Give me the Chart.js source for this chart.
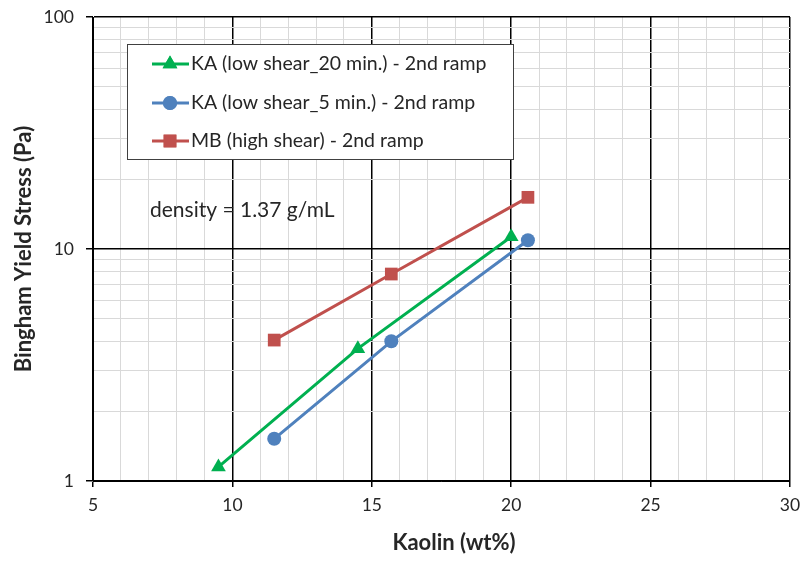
<!DOCTYPE html>
<html>
<head>
<meta charset="utf-8">
<script src="https://cdn.jsdelivr.net/npm/chart.js@4/dist/chart.umd.min.js"></script>
<style>
  html, body { margin: 0; padding: 0; background: #fff; }
  #wrap { width: 802px; height: 561px; }
</style>
</head>
<body>
<div id="wrap"><canvas id="graphique" width="802" height="561"></canvas></div>
<script>
// ── Données ───────────────────────────────────────────────
const kaolin20 = [9.5, 14.5, 20.0];
const stress20 = [1.15, 3.72, 11.3];

const kaolin5 = [11.5, 15.7, 20.6];
const stress5 = [1.52, 4.0, 10.9];

const kaolinMB = [11.5, 15.7, 20.6];
const stressMB = [4.05, 7.8, 16.7];

const seriesLabels = [
    'KA (low shear_20 min.) - 2nd ramp',
    'KA (low shear_5 min.) - 2nd ramp',
    'MB (high shear) - 2nd ramp'
];
const xTicks = [5, 10, 15, 20, 25, 30];
const yTicks = [1, 10, 100];

const FONT = 'Lato, "Open Sans", sans-serif';

function points(xs, ys) {
    return xs.map((x, i) => ({ x, y: ys[i] }));
}

function serie(label, data, color, style, radius) {
    return {
        label, data,
        borderColor: color, backgroundColor: color,
        borderWidth: 3, pointStyle: style,
        pointRadius: radius, pointHoverRadius: radius,
        pointBorderWidth: 0, showLine: true, tension: 0
    };
}

/* ── Légende encadrée, annotation densité, titre X ───────── */
const legendeInterne = {
    id: 'legendeInterne',
    afterDraw(chart) {
        const ctx = chart.ctx;
        ctx.save();
        ctx.fillStyle = '#fff';
        ctx.fillRect(127, 44, 386, 115);
        ctx.strokeStyle = '#404040';
        ctx.lineWidth = 1;
        ctx.strokeRect(127.5, 44.5, 386, 115);

        const rows = [64, 103, 141];
        chart.data.datasets.forEach((ds, i) => {
            const y = rows[i];
            ctx.strokeStyle = ds.borderColor;
            ctx.lineWidth = 3;
            ctx.beginPath();
            ctx.moveTo(152, y);
            ctx.lineTo(189, y);
            ctx.stroke();
            ctx.fillStyle = ds.borderColor;
            ctx.beginPath();
            Chart.helpers.drawPoint(ctx, {
                pointStyle: ds.pointStyle, radius: ds.pointRadius,
                rotation: 0, borderWidth: 0
            }, 170, y);
            ctx.fill();
            ctx.fillStyle = '#262626';
            ctx.font = '19.5px ' + FONT;
            ctx.textBaseline = 'middle';
            ctx.textAlign = 'left';
            ctx.fillText(ds.label, 191, y);
        });

        ctx.fillStyle = '#262626';
        ctx.font = '21px ' + FONT;
        ctx.textBaseline = 'middle';
        ctx.fillText('density = 1.37 g/mL', 150, 210);

        // titre de l'axe X (légèrement décalé comme dans l'original)
        ctx.font = 'bold 22px ' + FONT;
        ctx.textAlign = 'center';
        ctx.fillText('Kaolin (wt%)', 454, 543);
        ctx.restore();
    }
};

const estMajeurX = v => xTicks.includes(v);
const estMajeurY = v => yTicks.some(t => Math.abs(t - v) < 1e-9);

new Chart(document.getElementById('graphique'), {
    type: 'scatter',
    data: {
        datasets: [
            serie(seriesLabels[0], points(kaolin20, stress20), '#00B050', 'triangle', 8.5),
            serie(seriesLabels[1], points(kaolin5, stress5), '#4F81BD', 'circle', 7),
            serie(seriesLabels[2], points(kaolinMB, stressMB), '#C0504D', 'rect', 9)
        ]
    },
    options: {
        responsive: false,
        animation: false,
        layout: { padding: { top: 17, right: 12, left: 0, bottom: 0 } },
        plugins: { legend: { display: false }, tooltip: { enabled: false } },
        scales: {
            x: {
                type: 'linear', min: 5, max: 30,
                afterBuildTicks: s => {
                    const t = [];
                    for (let v = 5; v <= 30; v++) t.push({ value: v });
                    s.ticks = t;
                },
                afterFit: s => { s.height = 80; s.paddingRight = 0; s.paddingLeft = 0; },
                border: { color: '#000', width: 1 },
                grid: {
                    color: c => estMajeurX(c.tick.value) ? '#000' : '#d9d9d9',
                    lineWidth: c => estMajeurX(c.tick.value) ? 1.5 : 1,
                    tickColor: c => estMajeurX(c.tick.value) ? '#000' : 'rgba(0,0,0,0)',
                    tickLength: 6
                },
                ticks: {
                    autoSkip: false, maxRotation: 0, padding: 8,
                    color: '#262626', font: { family: FONT, size: 17.5 },
                    callback: v => estMajeurX(v) ? String(v) : ''
                }
            },
            y: {
                type: 'logarithmic', min: 1, max: 100,
                afterBuildTicks: s => {
                    const t = [];
                    [1, 10].forEach(d => { for (let k = 1; k < 10; k++) t.push({ value: k * d }); });
                    t.push({ value: 100 });
                    s.ticks = t;
                },
                afterFit: s => { s.width = 93; s.paddingTop = 0; s.paddingBottom = 0; },
                border: { color: '#000', width: 1 },
                grid: {
                    color: c => estMajeurY(c.tick.value) ? '#000' : '#d9d9d9',
                    lineWidth: c => estMajeurY(c.tick.value) ? 1.5 : 1,
                    tickColor: c => estMajeurY(c.tick.value) ? '#000' : 'rgba(0,0,0,0)',
                    tickLength: 7
                },
                ticks: {
                    autoSkip: false, padding: 12,
                    color: '#262626', font: { family: FONT, size: 17.5 },
                    callback: v => estMajeurY(v) ? String(v) : ''
                },
                title: {
                    display: true, text: 'Bingham Yield Stress (Pa)', color: '#262626',
                    font: { family: FONT, size: 22, weight: 'bold' },
                    padding: { top: 11, bottom: 0 }
                }
            }
        }
    },
    plugins: [legendeInterne]
});
</script>
</body>
</html>
